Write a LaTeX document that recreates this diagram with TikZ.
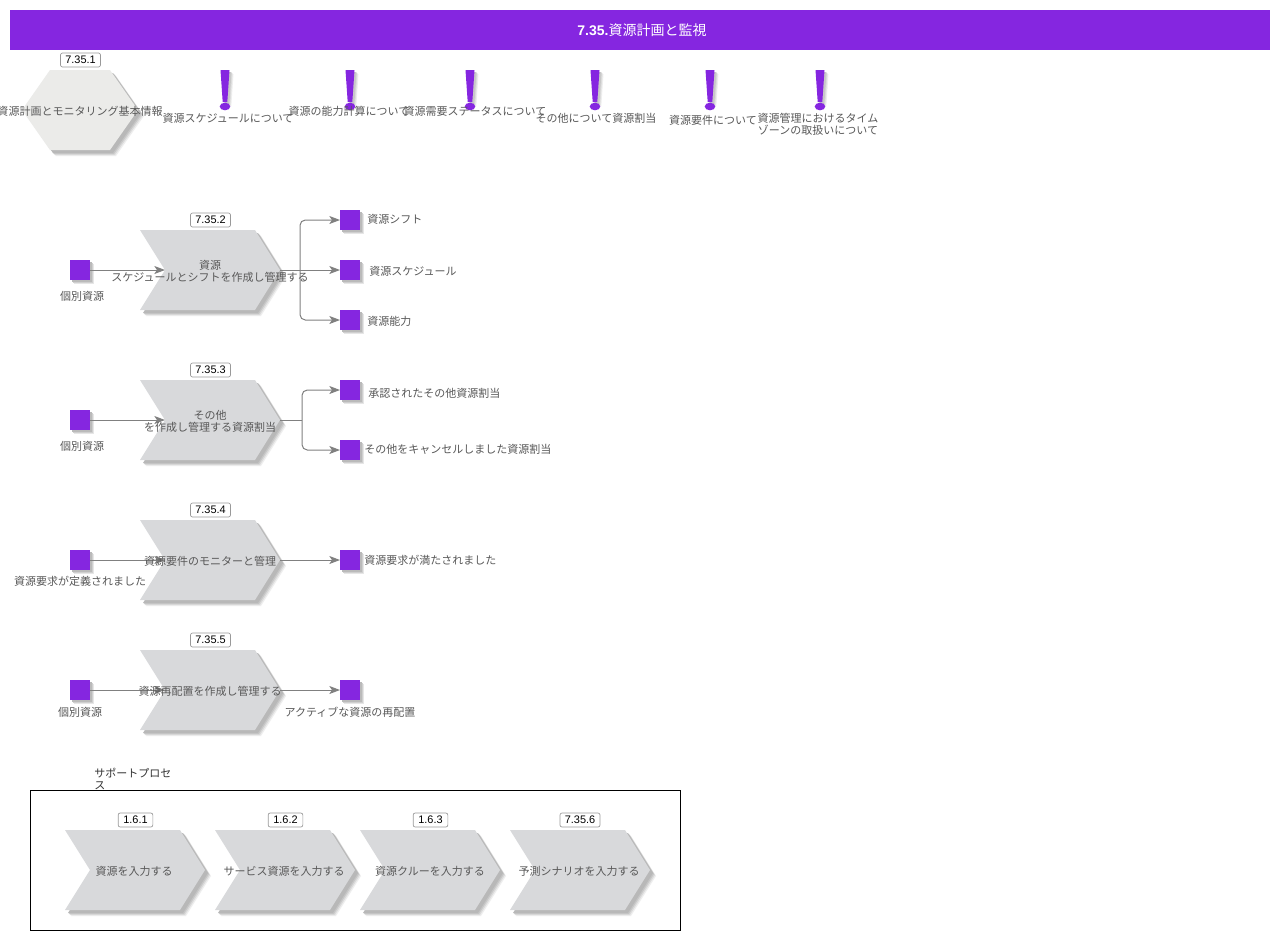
\documentclass[tikz,border=0pt]{standalone}
\usepackage{fontspec}
\setmainfont{Liberation Sans}
\newfontfamily\jp{Noto Sans CJK JP}
\usetikzlibrary{arrows.meta}
\definecolor{vio}{HTML}{8526E0}
\definecolor{chev}{HTML}{D8D9DB}
\definecolor{hexa}{HTML}{EBEBE9}
\definecolor{txt}{HTML}{585858}
\definecolor{lin}{HTML}{808080}
\tikzset{
 x=0.75pt,y=-0.75pt,
 lab/.style={inner sep=0pt,font=\jp\fontsize{8.25pt}{9pt}\selectfont,text=txt,align=center},
 sq/.style={fill=vio,minimum size=15pt,inner sep=0pt,outer sep=0pt},
 tag/.style={draw=black!40,fill=white,rounded corners=1.5pt,line width=0.5pt,font=\fontsize{8.2pt}{9pt}\selectfont,text=black,minimum height=10.5pt,inner sep=0pt},
 conn/.style={draw=lin,line width=0.75pt,rounded corners=4pt},
 arr/.style={conn,-{Stealth[length=8pt,width=6pt,inset=2pt]}}
}
\newcommand{\softshadow}[1]{%
 \foreach \o/\c in {6/EEEEEE,5/DADADA,4/C6C6C6,3/B8B8B8}{%
  \definecolor{tmpc}{HTML}{\c}%
  \begin{scope}[shift={(\o,\o)}]\fill[tmpc] #1;\end{scope}}}
\newcommand{\sqnode}[3]{%
 \foreach \o/\c in {4/E6E6E6,3/CFCFCF,2/BABABA}{%
  \definecolor{tmpc}{HTML}{\c}%
  \fill[tmpc] (#2+\o,#3+\o) rectangle (#2+20+\o,#3+20+\o);}
 \node[sq] (#1) at (#2+10,#3+10) {};}
\newcommand{\chevron}[4]{%
 \softshadow{(#2,#3) -- ++(115,0) -- ++(25,#4/2) -- ++(-25,#4/2) -- ++(-115,0) -- ++(25,-#4/2) -- cycle}
 \fill[chev] (#2,#3) -- ++(115,0) -- ++(25,#4/2) -- ++(-25,#4/2) -- ++(-115,0) -- ++(25,-#4/2) -- cycle;
 \coordinate (#1w) at (#2+25,#3+#4/2);
 \coordinate (#1e) at (#2+140,#3+#4/2);}
\newcommand{\excl}[1]{%
 \foreach \o/\c in {4/EEEEEE,3/DCDCDC,2/C8C8C8}{%
  \definecolor{tmpc}{HTML}{\c}%
  \fill[tmpc] (#1-4.5+\o,70+\o) -- (#1+4.5+\o,70+\o) -- (#1+2.3+\o,102+\o) -- (#1-2.3+\o,102+\o) -- cycle;}
 \fill[vio] (#1-4.5,70) -- (#1+4.5,70) -- (#1+2.3,102) -- (#1-2.3,102) -- cycle;
 \fill[vio] (#1,106.5) ellipse (5.3 and 3.8);}
\begin{document}
\begin{tikzpicture}
\useasboundingbox (0,0) rectangle (1280,940);
\fill[white] (0,0) rectangle (1280,940);
% header
\node[fill=vio,minimum width=945pt,minimum height=30pt,inner sep=0pt] (head) at (640,30) {};
\node[text=white,inner sep=0pt,font=\bfseries\fontsize{10.5pt}{12pt}\selectfont] (headt) at (642,30.5) {7.35.{\jp\mdseries 資源計画と監視}};
% hexagon
\softshadow{(50,70) -- (110,70) -- (138,110) -- (110,150) -- (50,150) -- (22,110) -- cycle}
\fill[hexa] (50,70) -- (110,70) -- (138,110) -- (110,150) -- (50,150) -- (22,110) -- cycle;
\node[tag,minimum width=30pt] (t1) at (80.5,60) {7.35.1};
\node[lab] (hexl) at (80,111) {資源計画とモニタリング基本情報};
% exclamations
\excl{225}\excl{350}\excl{470}\excl{595}\excl{710}\excl{820}
\node[lab] (e1) at (228,118) {資源スケジュールについて};
\node[lab] (e2) at (349,111) {資源の能力計算について};
\node[lab] (e3) at (475,111) {資源需要ステータスについて};
\node[lab] (e4) at (596,118) {その他について資源割当};
\node[lab] (e5) at (713,120) {資源要件について};
\node[lab] (e6) at (818,124) {資源管理におけるタイム\\ゾーンの取扱いについて};
% chevrons
\chevron{c2}{140}{230}{80}
\chevron{c3}{140}{380}{80}
\chevron{c4}{140}{520}{80}
\chevron{c5}{140}{650}{80}
% squares
\sqnode{a2}{70}{260}
\sqnode{b2a}{340}{210}\sqnode{b2b}{340}{260}\sqnode{b2c}{340}{310}
\sqnode{a3}{70}{410}
\sqnode{b3a}{340}{380}\sqnode{b3b}{340}{440}
\sqnode{a4}{70}{550}\sqnode{b4}{340}{550}
\sqnode{a5}{70}{680}\sqnode{b5}{340}{680}
% connectors
\coordinate (j2) at (300,270);
\coordinate (j3) at (302,420);
\draw[arr] (a2.east) -- (c2w);
\draw[arr] (c2e) -- (b2b.west);
\draw[arr] (j2) -- (300,220) -- (b2a.west);
\draw[arr] (j2) -- (300,320) -- (b2c.west);
\draw[arr] (a3.east) -- (c3w);
\draw[conn] (c3e) -- (j3);
\draw[arr] (j3) -- (302,390) -- (b3a.west);
\draw[arr] (j3) -- (302,450) -- (b3b.west);
\draw[arr] (a4.east) -- (c4w);
\draw[arr] (c4e) -- (b4.west);
\draw[arr] (a5.east) -- (c5w);
\draw[arr] (c5e) -- (b5.west);
% tags
\node[tag,minimum width=30pt] (t2) at (210.5,220) {7.35.2};
\node[tag,minimum width=30pt] (t3) at (210.5,370) {7.35.3};
\node[tag,minimum width=30pt] (t4) at (210.5,510) {7.35.4};
\node[tag,minimum width=30pt] (t5) at (210.5,640) {7.35.5};
% labels
\node[lab] (l2) at (210,271) {資源\\スケジュールとシフトを作成し管理する};
\node[lab] (l3) at (210,421) {その他\\を作成し管理する資源割当};
\node[lab] (l4) at (210,561) {資源要件のモニターと管理};
\node[lab] (l5) at (210,691) {資源再配置を作成し管理する};
\node[lab] (n1) at (82,296) {個別資源};
\node[lab] (n2) at (82,446) {個別資源};
\node[lab] (n3) at (80,581) {資源要求が定義されました};
\node[lab] (n4) at (80,712) {個別資源};
\node[lab,anchor=west] (n5) at (367,219) {資源シフト};
\node[lab,anchor=west] (n6) at (369,271) {資源スケジュール};
\node[lab,anchor=west] (n7) at (367,321) {資源能力};
\node[lab,anchor=west] (n8) at (368,393) {承認されたその他資源割当};
\node[lab,anchor=west] (n9) at (364,449) {その他をキャンセルしました資源割当};
\node[lab,anchor=west] (n10) at (364,560) {資源要求が満たされました};
\node[lab] (n11) at (350,712) {アクティブな資源の再配置};
% support frame
\draw[black,line width=0.75pt] (30.5,790.5) rectangle (680.5,930.5);
\node[lab,anchor=north west,text=black!80,align=left] (sup) at (94,768) {サポートプロセ\\ス};
\chevron{d1}{65}{830}{80}
\chevron{d2}{215}{830}{80}
\chevron{d3}{360}{830}{80}
\chevron{d4}{510}{830}{80}
\node[tag,minimum width=26pt] (t6) at (135.5,820) {1.6.1};
\node[tag,minimum width=26pt] (t7) at (285.5,820) {1.6.2};
\node[tag,minimum width=26pt] (t8) at (430.5,820) {1.6.3};
\node[tag,minimum width=30pt] (t9) at (580,820) {7.35.6};
\node[lab] (m1) at (134,871) {資源を入力する};
\node[lab] (m2) at (284,871) {サービス資源を入力する};
\node[lab] (m3) at (430,871) {資源クルーを入力する};
\node[lab] (m4) at (579,871) {予測シナリオを入力する};
\end{tikzpicture}
\end{document}
